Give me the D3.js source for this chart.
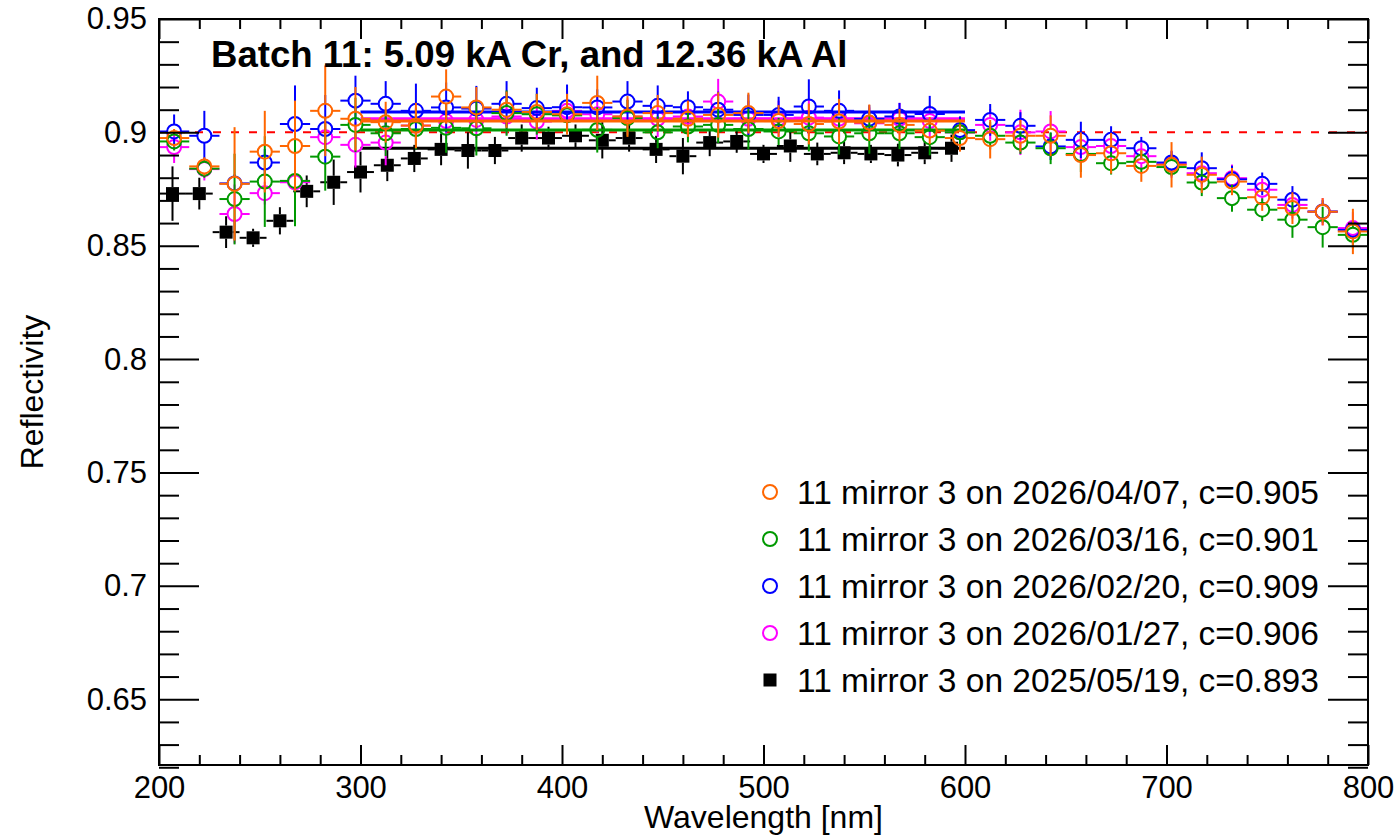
<!DOCTYPE html>
<html>
<head>
<meta charset="utf-8">
<script src="https://cdnjs.cloudflare.com/ajax/libs/d3/7.8.5/d3.min.js"></script>
<style>
  body { margin: 0; background: #fff; }
  svg { display: block; }
  text { font-family: "Liberation Sans", Arial, Helvetica, sans-serif; fill: #000; }
</style>
</head>
<body>
<svg id="chart" width="1396" height="835"></svg>
<script>
// wavelengths (nm)
var wlNew = [207.5, 222.5, 237.5, 252.5, 267.5, 282.5, 297.5, 312.5, 327.5, 342.5,
  357.5, 372.5, 387.5, 402.5, 417.5, 432.5, 447.5, 462.5, 477.5, 492.5,
  507.5, 522.5, 537.5, 552.5, 567.5, 582.5, 597.5, 612.5, 627.5, 642.5,
  657.5, 672.5, 687.5, 702.5, 717.5, 732.5, 747.5, 762.5, 777.5, 792.5];
var wlOld = [206.7, 220, 233.3, 246.7, 260, 273.3, 286.7, 300, 313.3, 326.7,
  340, 353.3, 366.7, 380, 393.3, 406.7, 420, 433.3, 446.7, 460,
  473.3, 486.7, 500, 513.3, 526.7, 540, 553.3, 566.7, 580, 593.3];

// reflectivity per measurement
var r0407 = [0.8975, 0.885, 0.8773, 0.8915, 0.894, 0.9095, 0.906, 0.9045, 0.903, 0.9158,
  0.911, 0.910, 0.909, 0.908, 0.913, 0.907, 0.9085, 0.906, 0.9077, 0.9085,
  0.905, 0.9037, 0.9048, 0.9043, 0.9033, 0.9008, 0.8975, 0.897, 0.8985, 0.8985,
  0.890, 0.8908, 0.8852, 0.8857, 0.8813, 0.8783, 0.8714, 0.8666, 0.865, 0.8563];
var e0407 = [0.004, 0.004, 0.025, 0.018, 0.02, 0.02, 0.014, 0.009, 0.01, 0.012,
  0.009, 0.008, 0.008, 0.009, 0.012, 0.009, 0.008, 0.008, 0.01, 0.009,
  0.007, 0.009, 0.01, 0.008, 0.007, 0.006, 0.006, 0.0085, 0.007, 0.009,
  0.01, 0.009, 0.007, 0.01, 0.008, 0.006, 0.006, 0.007, 0.006, 0.01];

var r0316 = [0.896, 0.884, 0.8706, 0.8783, 0.8786, 0.8893, 0.9033, 0.8996, 0.9015, 0.902,
  0.9018, 0.9085, 0.908, 0.9075, 0.9011, 0.9063, 0.900, 0.9026, 0.9033, 0.9015,
  0.9004, 0.8996, 0.8982, 0.8996, 0.8996, 0.8979, 0.900, 0.8985, 0.8955, 0.893,
  0.8905, 0.8864, 0.887, 0.8847, 0.8779, 0.871, 0.8659, 0.8615, 0.8582, 0.8548];
var e0316 = [0.004, 0.004, 0.02, 0.02, 0.02, 0.015, 0.012, 0.01, 0.009, 0.011,
  0.012, 0.01, 0.009, 0.008, 0.01, 0.008, 0.007, 0.007, 0.008, 0.009,
  0.006, 0.008, 0.008, 0.009, 0.007, 0.008, 0.006, 0.006, 0.005, 0.007,
  0.008, 0.005, 0.005, 0.004, 0.006, 0.006, 0.005, 0.008, 0.009, 0.006];

var r0220 = [0.9004, 0.8985, 0.8775, 0.8867, 0.9037, 0.9015, 0.914, 0.9126, 0.9095, 0.911,
  0.9105, 0.9126, 0.9107, 0.9111, 0.911, 0.9136, 0.9117, 0.9111, 0.910, 0.9077,
  0.9077, 0.9114, 0.9095, 0.906, 0.907, 0.9081, 0.901, 0.9055, 0.9029, 0.8938,
  0.8967, 0.8967, 0.893, 0.8867, 0.8842, 0.8793, 0.8773, 0.8703, 0.8651, 0.857];
var e0220 = [0.0075, 0.011, 0.004, 0.006, 0.017, 0.015, 0.011, 0.01, 0.012, 0.011,
  0.01, 0.01, 0.009, 0.01, 0.008, 0.009, 0.009, 0.007, 0.008, 0.009,
  0.008, 0.012, 0.009, 0.006, 0.006, 0.008, 0.006, 0.007, 0.006, 0.006,
  0.008, 0.006, 0.005, 0.005, 0.007, 0.006, 0.005, 0.006, 0.005, 0.004];

var r0127 = [0.8935, 0.8838, 0.864, 0.8732, 0.878, 0.8979, 0.8945, 0.8955, 0.903, 0.905,
  0.9055, 0.907, 0.9048, 0.9095, 0.908, 0.907, 0.906, 0.907, 0.9136, 0.906,
  0.906, 0.9065, 0.906, 0.904, 0.906, 0.905, 0.900, 0.9033, 0.900, 0.9004,
  0.8935, 0.894, 0.8895, 0.886, 0.882, 0.8798, 0.8747, 0.868, 0.865, 0.8578];
var e0127 = [0.007, 0.005, 0.013, 0.005, 0.006, 0.006, 0.01, 0.01, 0.008, 0.008,
  0.008, 0.008, 0.008, 0.009, 0.008, 0.008, 0.008, 0.007, 0.01, 0.008,
  0.008, 0.008, 0.008, 0.007, 0.007, 0.007, 0.007, 0.007, 0.01, 0.009,
  0.007, 0.007, 0.006, 0.006, 0.006, 0.006, 0.005, 0.006, 0.006, 0.007];

var r0519 = [0.873, 0.873, 0.856, 0.8535, 0.861, 0.874, 0.878, 0.8825, 0.8855, 0.8885,
  0.8925, 0.892, 0.892, 0.8975, 0.8975, 0.8985, 0.8965, 0.8975, 0.8925, 0.8895,
  0.8955, 0.896, 0.8905, 0.894, 0.8905, 0.891, 0.8905, 0.890, 0.891, 0.893];
var e0519 = [0.012, 0.007, 0.007, 0.004, 0.006, 0.007, 0.01, 0.009, 0.007, 0.006,
  0.007, 0.008, 0.006, 0.006, 0.005, 0.005, 0.008, 0.006, 0.006, 0.008,
  0.006, 0.005, 0.004, 0.007, 0.005, 0.005, 0.004, 0.005, 0.005, 0.006];

var labels = ["11 mirror 3 on 2026/04/07, c=0.905", "11 mirror 3 on 2026/03/16, c=0.901",
  "11 mirror 3 on 2026/02/20, c=0.909", "11 mirror 3 on 2026/01/27, c=0.906",
  "11 mirror 3 on 2025/05/19, c=0.893"];
var fitC = [0.905, 0.901, 0.909, 0.906, 0.893];
var fitRange = [300, 600];
var xMajor = [200, 300, 400, 500, 600, 700, 800];
var yMajor = [0.65, 0.7, 0.75, 0.8, 0.85, 0.9, 0.95];

var series = [
  { wl: wlNew, r: r0407, e: e0407, dx: 7.5, color: "#ff6600", open: true },
  { wl: wlNew, r: r0316, e: e0316, dx: 7.5, color: "#009900", open: true },
  { wl: wlNew, r: r0220, e: e0220, dx: 7.5, color: "#0000ff", open: true },
  { wl: wlNew, r: r0127, e: e0127, dx: 7.5, color: "#ff00ff", open: true },
  { wl: wlOld, r: r0519, e: e0519, dx: 6.67, color: "#000000", open: false }
];

var L = 159, R = 1368, T = 19, B = 765;
var x = d3.scaleLinear().domain([200, 800]).range([L, R]);
var y = d3.scaleLinear().domain([0.621, 0.95]).range([B, T]);

var svg = d3.select("#chart");

// reference line at 0.9
svg.append("line")
  .attr("x1", x(200)).attr("x2", x(800))
  .attr("y1", y(0.9)).attr("y2", y(0.9))
  .attr("stroke", "#ff0000").attr("stroke-width", 2)
  .attr("stroke-dasharray", "8,10");

var rad = 7, half = 6.5;

// draw oldest first, newest on top
series.slice().reverse().forEach(function(s, k) {
  var idx = series.length - 1 - k;
  var g = svg.append("g");
  var gap = s.open ? rad : half;

  // fitted constant
  g.append("line")
    .attr("x1", x(fitRange[0])).attr("x2", x(fitRange[1]))
    .attr("y1", y(fitC[idx])).attr("y2", y(fitC[idx]))
    .attr("stroke", s.color).attr("stroke-width", 3);

  s.wl.forEach(function(w, i) {
    var cx = x(w), cy = y(s.r[i]);
    var up = y(s.r[i] + s.e[i]), dn = y(s.r[i] - s.e[i]);
    var segs = [
      [x(w - s.dx), cy, cx - gap, cy],
      [cx + gap, cy, x(w + s.dx), cy]
    ];
    if (cy - up > gap) segs.push([cx, up, cx, cy - gap]);
    if (dn - cy > gap) segs.push([cx, cy + gap, cx, dn]);
    segs.forEach(function(p) {
      g.append("line")
        .attr("x1", p[0]).attr("y1", p[1]).attr("x2", p[2]).attr("y2", p[3])
        .attr("stroke", s.color).attr("stroke-width", 2);
    });
    if (s.open) {
      g.append("circle").attr("cx", cx).attr("cy", cy).attr("r", rad)
        .attr("fill", "none").attr("stroke", s.color).attr("stroke-width", 2);
    } else {
      g.append("rect").attr("x", cx - half).attr("y", cy - half)
        .attr("width", 2 * half).attr("height", 2 * half).attr("fill", s.color);
    }
  });
});

// frame
svg.append("rect")
  .attr("x", L).attr("y", T).attr("width", R - L).attr("height", B - T)
  .attr("fill", "none").attr("stroke", "#000").attr("stroke-width", 2);

var xMinor = d3.range(200, 801, 20).filter(function(v) { return v % 100 !== 0; });
var yMinor = d3.range(62, 96, 1).map(function(v) { return v / 100; })
  .filter(function(v) { return Math.round(v * 100) % 5 !== 0; });

function axisGroup(axis, tx, ty) {
  var g = svg.append("g").attr("transform", "translate(" + tx + "," + ty + ")").call(axis);
  g.select(".domain").remove();
  g.selectAll(".tick line").attr("stroke-width", 2);
  return g;
}

var fmtY = function(d) { return d3.format("")(+d.toFixed(2)); };

// bottom
var bx = axisGroup(d3.axisBottom(x).tickValues(xMajor).tickSize(-20).tickPadding(11), 0, B);
bx.selectAll("text").attr("font-size", 31).attr("font-family", "Liberation Sans, Arial, sans-serif");
axisGroup(d3.axisBottom(x).tickValues(xMinor).tickSize(-10).tickFormat(""), 0, B);
// top
axisGroup(d3.axisTop(x).tickValues(xMajor).tickSize(-20).tickFormat(""), 0, T);
axisGroup(d3.axisTop(x).tickValues(xMinor).tickSize(-10).tickFormat(""), 0, T);
// left
var ly = axisGroup(d3.axisLeft(y).tickValues(yMajor).tickSize(-40).tickPadding(12).tickFormat(fmtY), L, 0);
ly.selectAll("text").attr("font-size", 31).attr("font-family", "Liberation Sans, Arial, sans-serif");
axisGroup(d3.axisLeft(y).tickValues(yMinor).tickSize(-20).tickFormat(""), L, 0);
// right
axisGroup(d3.axisRight(y).tickValues(yMajor).tickSize(-40).tickFormat(""), R, 0);
axisGroup(d3.axisRight(y).tickValues(yMinor).tickSize(-20).tickFormat(""), R, 0);

// titles
svg.append("text")
  .attr("x", (L + R) / 2).attr("y", 828)
  .attr("text-anchor", "middle").attr("font-size", 32)
  .text("Wavelength [nm]");
svg.append("text")
  .attr("transform", "translate(43," + ((T + B) / 2) + ") rotate(-90)")
  .attr("text-anchor", "middle").attr("font-size", 32)
  .text("Reflectivity");
svg.append("text")
  .attr("x", 211).attr("y", 67)
  .attr("font-size", 36.6).attr("font-weight", "bold")
  .text("Batch 11: 5.09 kA Cr, and 12.36 kA Al");

// legend
var legY = d3.scalePoint().domain(d3.range(labels.length)).range([492, 680]);
labels.forEach(function(lab, i) {
  var s = series[i], cy = legY(i);
  if (s.open) {
    svg.append("circle").attr("cx", 770).attr("cy", cy).attr("r", 7)
      .attr("fill", "none").attr("stroke", s.color).attr("stroke-width", 2);
  } else {
    svg.append("rect").attr("x", 770 - half).attr("y", cy - half)
      .attr("width", 2 * half).attr("height", 2 * half).attr("fill", s.color);
  }
  svg.append("text").attr("x", 797).attr("y", cy).attr("dy", "0.36em")
    .attr("font-size", 33.5).text(lab);
});
</script>
</body>
</html>
